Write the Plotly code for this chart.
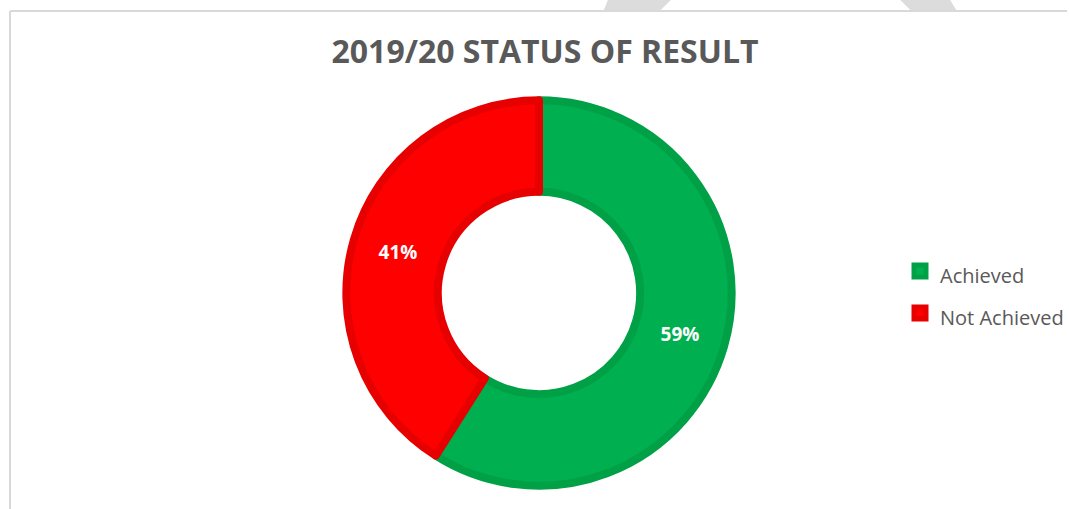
import plotly.graph_objects as go

W, H = 1069, 509

labels = ["Achieved", "Not Achieved"]
values = [59, 41]
colors = ["#00B050", "#FF0000"]
border_colors = ["#00A146", "#E60000"]
title_text = "2019/20 STATUS OF RESULT"

def px(x):
    return x / W

def py(y):
    return 1 - y / H

cx, cy, r = 540, 293, 193

legend_labels = [f"<span style='font-size:20px'>{l}</span>" for l in labels]

fig = go.Figure(go.Pie(
    labels=legend_labels,
    values=values,
    hole=0.525,
    sort=False,
    direction="clockwise",
    rotation=0,
    marker=dict(colors=colors, line=dict(color=border_colors, width=8)),
    textinfo="percent",
    texttemplate="%{percent:.0%}",
    textposition="inside",
    insidetextorientation="horizontal",
    textfont=dict(family="Open Sans", size=19, color="white", weight="bold"),
    domain=dict(x=[px(cx - r), px(cx + r)], y=[py(cy + r), py(cy - r)]),
    hoverinfo="percent",
))

shapes = [
    dict(type="line", xref="paper", yref="paper", x0=px(10), x1=1.0, y0=py(11), y1=py(11),
         line=dict(color="#D9D9D9", width=2)),
    dict(type="line", xref="paper", yref="paper", x0=px(10), x1=px(10), y0=py(11), y1=0,
         line=dict(color="#D9D9D9", width=2)),
    dict(type="path", xref="paper", yref="paper",
         path=f"M {px(605)} {py(10)} L {px(609)} {py(0)} L {px(672)} {py(0)} L {px(662)} {py(10)} Z",
         fillcolor="#DCDCDC", line=dict(width=0)),
    dict(type="path", xref="paper", yref="paper",
         path=f"M {px(902)} {py(0)} L {px(952)} {py(0)} L {px(958)} {py(10)} L {px(912)} {py(10)} Z",
         fillcolor="#DCDCDC", line=dict(width=0)),
]

fig.update_layout(
    width=W, height=H,
    margin=dict(l=0, r=0, t=0, b=0),
    paper_bgcolor="white",
    plot_bgcolor="white",
    title=dict(text=title_text, x=px(545), xanchor="center", y=py(52), yanchor="middle",
               font=dict(family="Open Sans", size=32, color="#595959", weight="bold")),
    showlegend=True,
    legend=dict(x=px(902), y=py(292), xanchor="left", yanchor="middle",
                font=dict(family="Open Sans", size=30, color="#595959"),
                itemwidth=30,
                bgcolor="rgba(0,0,0,0)", tracegroupgap=0),
    shapes=shapes,
)

fig.write_html("out.html", config={"displayModeBar": False},
               post_script="document.body.style.margin='0';document.body.style.overflow='hidden';")
